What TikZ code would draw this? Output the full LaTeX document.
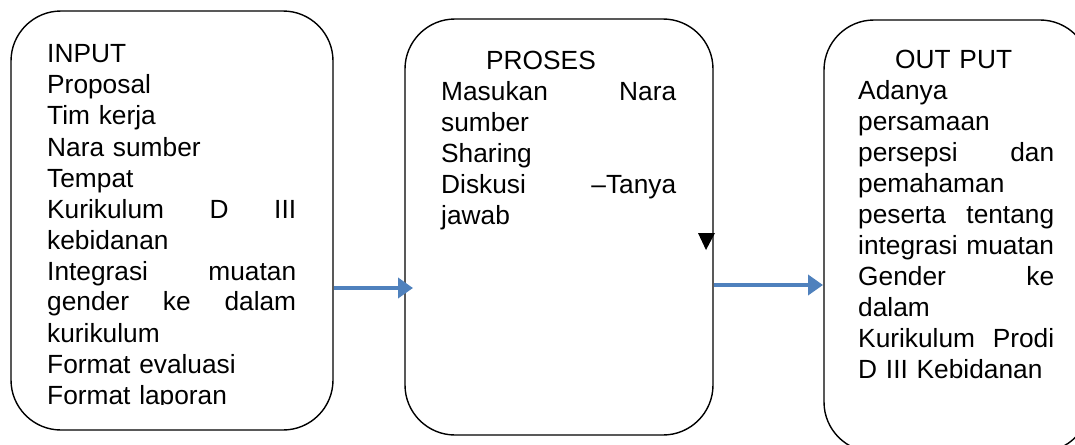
\documentclass[tikz,border=0pt]{standalone}
\usepackage{fontspec}
\setmainfont{Liberation Sans}
\usetikzlibrary{arrows.meta}
\definecolor{arrowblue}{HTML}{4F81BD}
\tikzset{
  stagebox/.style={draw=black, line width=1.4pt, rounded corners=50pt, inner sep=0pt},
  boxtext/.style={anchor=base west, inner sep=0pt, align=left,
    font=\fontsize{26.3}{31}\selectfont},
  flowarrow/.style={draw=arrowblue, line width=3.8pt,
    -{Triangle[length=15pt,width=20pt]}},
}
\begin{document}
\begin{tikzpicture}[x=1pt,y=-1pt]
\useasboundingbox (0,0) rectangle (1075,444);
% boxes
\node[stagebox, minimum width=322pt, minimum height=419pt] (inbox) at (172,220.5) {};
\node[stagebox, minimum width=308pt, minimum height=416pt] (procbox) at (559,227) {};
\node[stagebox, minimum width=266pt, minimum height=432pt] (outbox) at (957,236) {};
% texts
\begin{scope}
\clip (0,0) rectangle (1075,404);
\node[boxtext, text width=249pt] (intext) at (47,63) {%
INPUT\\
Proposal\\
Tim kerja\\
Nara sumber\\
Tempat\\
Kurikulum\hfill D\hfill III\\
kebidanan\\
Integrasi\hfill muatan\\
gender\hfill ke\hfill dalam\\
kurikulum\\
Format evaluasi\\
Format laporan};
\end{scope}
\node[boxtext, text width=235pt] (proctext) at (441,69.5) {%
\hspace*{45pt}PROSES\\
Masukan\hfill Nara\\
sumber\\
Sharing\\
Diskusi\hfill –Tanya\\
jawab};
\node[boxtext, text width=196pt] (outtext) at (858,68.3) {%
\hspace*{37pt}OUT PUT\\
Adanya\\
persamaan\\
persepsi\hfill dan\\
pemahaman\\
peserta\hfill tentang\\
integrasi muatan\\
Gender\hfill ke\\
dalam\\
Kurikulum\hfill Prodi\\
D III Kebidanan};
% arrows
\coordinate (a1s) at (inbox.east |- 0,288);
\coordinate (a1e) at (413,288);
\coordinate (a2s) at (procbox.east |- 0,285);
\coordinate (a2e) at (823,285);
\draw[flowarrow] (a1s) -- (a1e);
\draw[flowarrow] (a2s) -- (a2e);
% small black triangle
\coordinate (tri) at (706,250);
\fill[black] (tri) -- ++(-8,-17) -- ++(17,0) -- cycle;
\end{tikzpicture}
\end{document}
